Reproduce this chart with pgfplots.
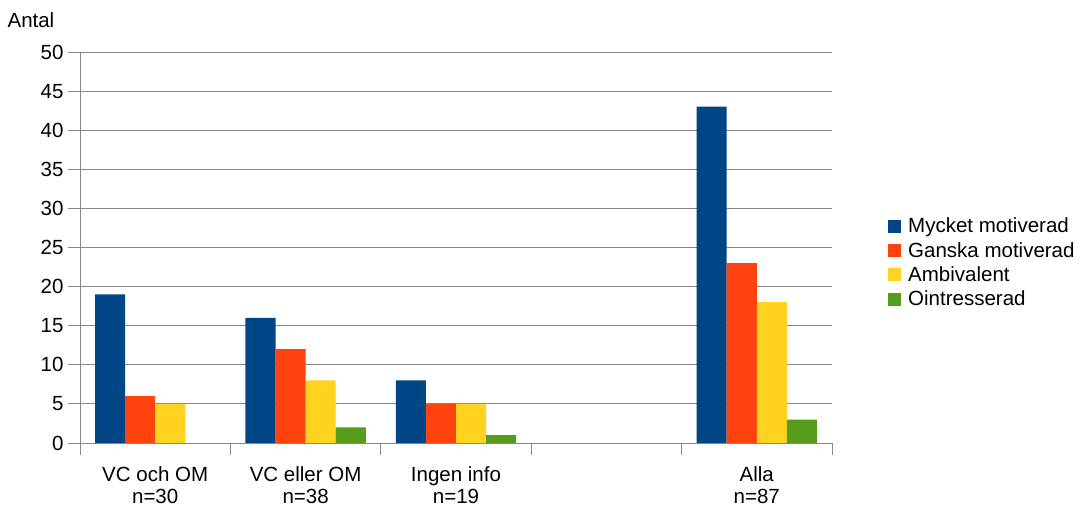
\documentclass[border=0pt]{standalone}
\usepackage{fontspec}
\setmainfont{Liberation Sans}
\usepackage{pgfplots}
\pgfplotsset{compat=1.18}
\definecolor{c1}{HTML}{004586}
\definecolor{c2}{HTML}{FF420E}
\definecolor{c3}{HTML}{FFD320}
\definecolor{c4}{HTML}{579D1C}
\definecolor{gridc}{HTML}{878787}
\newcommand{\chartfont}{\fontsize{20.5}{24}\selectfont}
\newcommand{\xlabfont}{\fontsize{20.5}{22}\selectfont}
\begin{document}
\begin{tikzpicture}
\useasboundingbox (0,0) rectangle (1085pt,506pt);
\begin{axis}[
  at={(80pt,63pt)}, anchor=south west,
  scale only axis, width=752pt, height=391pt,
  ybar=0pt, bar width=0.2,
  xmin=-0.5, xmax=4.5, ymin=0, ymax=50,
  xtick={-0.5,0.5,...,4.5},
  x tick label as interval,
  xticklabels={{VC och OM\\n=30},{VC eller OM\\n=38},{Ingen info\\n=19},{},{Alla\\n=87}},
  ytick={0,5,...,50},
  ymajorgrids, grid style={gridc, line width=0.8pt},
  axis x line*=bottom, axis y line*=left,
  axis line style={gridc, -, line width=0.8pt},
  tick align=outside, major tick length=12pt,
  tick style={gridc, line width=0.8pt},
  /pgf/number format/assume math mode=true,
  tick label style={font=\chartfont},
  xticklabel style={align=center, yshift=-8pt, font=\xlabfont},
  yticklabel style={xshift=-1pt},
  ylabel={Antal},
  ylabel style={rotate=-90, anchor=west, font=\chartfont, at={(axis description cs:-0.101,1.082)}},
  legend style={at={(1.0705,0.586)}, anchor=north west, draw=none, fill=none,
    font=\chartfont, row sep=4pt,
    /tikz/every odd column/.append style={column sep=5pt}},
  legend cell align=left,
  every axis plot/.append style={draw=none},
  legend image code/.code={\fill[#1] (0pt,-6.5pt) rectangle (13pt,6.5pt);},
]
\addplot[fill=c1] coordinates {(0,19) (1,16) (2,8) (4,43)};
\addplot[fill=c2] coordinates {(0,6) (1,12) (2,5) (4,23)};
\addplot[fill=c3] coordinates {(0,5) (1,8) (2,5) (4,18)};
\addplot[fill=c4] coordinates {(1,2) (2,1) (4,3)};
\legend{Mycket motiverad, Ganska motiverad, Ambivalent, Ointresserad}
\end{axis}
\end{tikzpicture}
\end{document}
